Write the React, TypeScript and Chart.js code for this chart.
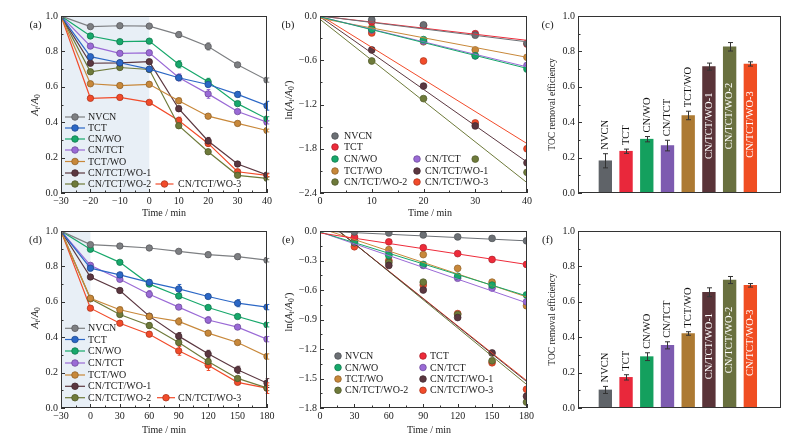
import React, { useEffect, useRef } from 'react';
import { Chart, registerables } from 'chart.js';

Chart.register(...registerables);

const FONT = "'Liberation Serif', 'Times New Roman', serif";
Chart.defaults.font.family = FONT;
Chart.defaults.font.size = 10;
Chart.defaults.color = '#222';

// ---- data ----
const series = ['NVCN', 'TCT', 'CN/WO', 'CN/TCT', 'TCT/WO', 'CN/TCT/WO-1', 'CN/TCT/WO-2', 'CN/TCT/WO-3'];

// (a) A/A0 vs time, 40 min run
const timeA = [-30, -20, -10, 0, 10, 20, 30, 40];
const ratioA = [
  [1.0, 0.94, 0.945, 0.943, 0.895, 0.828, 0.724, 0.638], // NVCN
  [1.0, 0.77, 0.736, 0.70, 0.651, 0.613, 0.557, 0.493], // TCT
  [1.0, 0.887, 0.855, 0.858, 0.727, 0.628, 0.505, 0.419], // CN/WO
  [1.0, 0.83, 0.789, 0.792, 0.653, 0.56, 0.46, 0.40], // CN/TCT
  [1.0, 0.617, 0.607, 0.614, 0.521, 0.434, 0.393, 0.353], // TCT/WO
  [1.0, 0.733, 0.735, 0.742, 0.476, 0.294, 0.164, 0.102], // CN/TCT/WO-1
  [1.0, 0.685, 0.709, 0.698, 0.38, 0.233, 0.10, 0.083], // CN/TCT/WO-2
  [1.0, 0.535, 0.54, 0.512, 0.41, 0.28, 0.12, 0.10], // CN/TCT/WO-3
];
const errA = [
  [0, 0.012, 0.01, 0.01, 0.015, 0.02, 0.01, 0.012],
  [0, 0.012, 0.01, 0.01, 0.015, 0.012, 0.015, 0.025],
  [0, 0.012, 0.012, 0.01, 0.02, 0.02, 0.012, 0.012],
  [0, 0.012, 0.012, 0.01, 0.02, 0.025, 0.01, 0.01],
  [0, 0.01, 0.008, 0.01, 0.015, 0.008, 0.012, 0.008],
  [0, 0.01, 0.01, 0.01, 0.015, 0.02, 0.008, 0.01],
  [0, 0.012, 0.01, 0.01, 0.012, 0.01, 0.008, 0.008],
  [0, 0.01, 0.012, 0.008, 0.018, 0.015, 0.01, 0.008],
];

// (b) ln(At/A0') points and fitted lines
const timeB = [10, 20, 30, 40];
const lnB = [
  [-0.05, -0.12, -0.26, -0.37],
  [-0.08, -0.13, -0.24, -0.38],
  [-0.18, -0.32, -0.54, -0.72],
  [-0.19, -0.34, -0.54, -0.67],
  [-0.16, -0.35, -0.46, -0.56],
  [-0.46, -0.95, -1.49, -1.99],
  [-0.61, -1.12, -1.94, -2.12],
  [-0.23, -0.61, -1.45, -1.80],
];
const fitTimeB = [0, 40];
const fitB = [
  [0.0, -0.35],
  [0.0, -0.33],
  [-0.01, -0.71],
  [-0.01, -0.69],
  [-0.03, -0.56],
  [-0.01, -1.98],
  [-0.045, -2.26],
  [0.01, -1.73],
];

// (c) TOC removal efficiency, 40 min
const tocC = [0.182, 0.236, 0.304, 0.268, 0.438, 0.714, 0.826, 0.729];
const tocCErr = [0.04, 0.012, 0.015, 0.03, 0.024, 0.02, 0.024, 0.012];

// (d) A/A0 vs time, 180 min run
const timeD = [-30, 0, 30, 60, 90, 120, 150, 180];
const ratioD = [
  [1.0, 0.923, 0.915, 0.904, 0.885, 0.866, 0.855, 0.835],
  [1.0, 0.79, 0.752, 0.71, 0.673, 0.63, 0.592, 0.57],
  [1.0, 0.897, 0.823, 0.70, 0.633, 0.568, 0.517, 0.47],
  [1.0, 0.806, 0.727, 0.643, 0.57, 0.497, 0.457, 0.389],
  [1.0, 0.62, 0.555, 0.517, 0.489, 0.423, 0.37, 0.291],
  [1.0, 0.74, 0.664, 0.519, 0.406, 0.306, 0.216, 0.141],
  [1.0, 0.617, 0.528, 0.466, 0.37, 0.263, 0.167, 0.113],
  [1.0, 0.564, 0.479, 0.417, 0.323, 0.242, 0.145, 0.112],
];
const errD = [
  [0, 0.012, 0.01, 0.01, 0.012, 0.015, 0.015, 0.01],
  [0, 0.015, 0.015, 0.015, 0.025, 0.01, 0.02, 0.015],
  [0, 0.01, 0.01, 0.012, 0.015, 0.01, 0.01, 0.012],
  [0, 0.012, 0.012, 0.02, 0.012, 0.018, 0.01, 0.015],
  [0, 0.01, 0.015, 0.01, 0.02, 0.01, 0.012, 0.015],
  [0, 0.012, 0.012, 0.012, 0.02, 0.02, 0.02, 0.025],
  [0, 0.01, 0.012, 0.015, 0.015, 0.015, 0.01, 0.015],
  [0, 0.012, 0.012, 0.012, 0.025, 0.03, 0.012, 0.03],
];

// (e) ln(At/A0') 180 min run
const timeE = [30, 60, 90, 120, 150, 180];
const lnE = [
  [-0.01, -0.02, -0.04, -0.06, -0.075, -0.10],
  [-0.06, -0.11, -0.17, -0.23, -0.29, -0.34],
  [-0.10, -0.25, -0.34, -0.46, -0.55, -0.65],
  [-0.11, -0.23, -0.35, -0.48, -0.58, -0.72],
  [-0.07, -0.19, -0.24, -0.38, -0.52, -0.76],
  [-0.10, -0.35, -0.60, -0.88, -1.24, -1.68],
  [-0.12, -0.32, -0.52, -0.85, -1.32, -1.74],
  [-0.16, -0.30, -0.55, -0.84, -1.34, -1.61],
];
const fitTimeE = [0, 180];
const fitE = [
  [0.0, -0.10],
  [-0.02, -0.34],
  [-0.01, -0.66],
  [-0.01, -0.73],
  [0.03, -0.67],
  [0.15, -1.53],
  [0.16, -1.56],
  [0.15, -1.52],
];

// (f) TOC removal efficiency, 180 min
const tocF = [0.102, 0.173, 0.29, 0.354, 0.421, 0.654, 0.723, 0.693];
const tocFErr = [0.02, 0.015, 0.022, 0.02, 0.01, 0.025, 0.02, 0.01];

// ---- styles ----
const ratioColors = ['#7d7f82', '#2b67c6', '#17a86b', '#9a6ad6', '#c8883a', '#5b3740', '#6e7a3a', '#f24b2a'];
const lnColors = ['#6c7075', '#ee2b3a', '#17a86b', '#9a6ad6', '#c8883a', '#5b3740', '#6e7a3a', '#f24b2a'];
const barColors = ['#5f6368', '#e9283b', '#14a05e', '#7d5bb0', '#ad7a33', '#5a3439', '#69703f', '#f04e22'];

type Box = { left: number; top: number; width: number; height: number; area: number[] };
type Seg = { t: string; it?: boolean; sub?: boolean };
type Txt = { segs: Seg[]; x: number; y: number; size: number; rotate?: boolean };
type Leg = { label: string; color: string; mx: number; y: number; tx: number; line?: number };

const boxA: Box = { left: 0, top: 0, width: 278, height: 222, area: [61, 16, 267, 193] };
const boxB: Box = { left: 278, top: 0, width: 258, height: 222, area: [320, 16, 527, 193] };
const boxC: Box = { left: 536, top: 0, width: 266, height: 222, area: [578, 16, 781, 193] };
const boxD: Box = { left: 0, top: 222, width: 278, height: 220, area: [61, 231, 267, 408] };
const boxE: Box = { left: 278, top: 222, width: 258, height: 220, area: [320, 231, 527, 408] };
const boxF: Box = { left: 536, top: 222, width: 266, height: 220, area: [578, 231, 781, 408] };

// legend anchors: [marker x, y, text x, line half length]
const legA = [[75, 117, 88, 10], [75, 128, 88, 10], [75, 139, 88, 10], [75, 150, 88, 10], [75, 161.5, 88, 10], [75, 173, 88, 10], [75, 184, 88, 10], [164.5, 184, 178, 9]];
const legD = [[75, 328.3, 88, 10], [75, 339.5, 88, 10], [75, 351, 88, 10], [75, 363, 88, 10], [75, 375, 88, 10], [75, 386.3, 88, 10], [75, 397.7, 88, 10], [166, 397.7, 178, 9]];
const legB = [[335, 136, 344], [335, 147, 344], [335, 159, 344], [417, 159, 425], [335, 171, 344], [417, 171, 425], [335, 182, 344], [417, 182, 425]];
const legE = [[338, 356, 345], [423, 356, 430], [338, 367.5, 345], [423, 367.5, 430], [338, 379, 345], [423, 379, 430], [338, 390.3, 345], [423, 390.3, 430]];

const ratioTitle: Seg[] = [{ t: 'A', it: true }, { t: 't', it: true, sub: true }, { t: '/' }, { t: 'A', it: true }, { t: '0', sub: true }];
const lnTitle: Seg[] = [{ t: 'ln(' }, { t: 'A', it: true }, { t: 't', it: true, sub: true }, { t: '/' }, { t: 'A', it: true }, { t: '0', sub: true }, { t: '′' }, { t: ')' }];
const tocTitle: Seg[] = [{ t: 'TOC removal efficiency' }];
const timeTitle: Seg[] = [{ t: 'Time / min' }];

const darken = (hex: string, f = 0.72) => {
  const n = parseInt(hex.slice(1), 16);
  return `rgb(${Math.round(((n >> 16) & 255) * f)},${Math.round(((n >> 8) & 255) * f)},${Math.round((n & 255) * f)})`;
};
const minus = (v: number, d: number) => (Math.abs(v) < 1e-9 ? (0).toFixed(d) : (v < 0 ? '\u2212' : '') + Math.abs(v).toFixed(d));

function drawRich(ctx: CanvasRenderingContext2D, tx: Txt) {
  ctx.save();
  ctx.translate(tx.x, tx.y);
  if (tx.rotate) ctx.rotate(-Math.PI / 2);
  const fontOf = (s: Seg) => `${s.it ? 'italic ' : ''}${s.sub ? tx.size * 0.7 : tx.size}px ${FONT}`;
  const widths = tx.segs.map((s) => {
    ctx.font = fontOf(s);
    return ctx.measureText(s.t).width;
  });
  let cx = -widths.reduce((a, b) => a + b, 0) / 2;
  ctx.textBaseline = 'middle';
  ctx.textAlign = 'left';
  ctx.fillStyle = '#222';
  tx.segs.forEach((s, i) => {
    ctx.font = fontOf(s);
    ctx.fillText(s.t, cx, s.sub ? tx.size * 0.3 : 0);
    cx += widths[i];
  });
  ctx.restore();
}

interface DecorCfg {
  box: Box;
  texts: Txt[];
  legend?: Leg[];
  shade?: number[];
  minorX?: number;
  minorY?: number;
  ticksX?: boolean;
  barLabels?: { names: string[]; values: number[]; errs: number[]; insideFrom: number };
}

function drawErrors(chart: any, onTop: boolean) {
  const { ctx, scales } = chart;
  chart.data.datasets.forEach((ds: any, i: number) => {
    if (!ds.errors || !!ds.errOnTop !== onTop) return;
    const meta = chart.getDatasetMeta(i);
    ctx.save();
    ctx.strokeStyle = ds.errColor || ds.borderColor;
    ctx.lineWidth = 1;
    meta.data.forEach((el: any, j: number) => {
      const e = ds.errors[j];
      if (!e) return;
      const v = ds.data[j].y;
      const yt = scales.y.getPixelForValue(v + e);
      const yb = scales.y.getPixelForValue(v - e);
      const x = Math.round(el.x) + 0.5;
      const c = ds.capW ?? 2;
      ctx.beginPath();
      ctx.moveTo(x, yt);
      ctx.lineTo(x, yb);
      ctx.moveTo(x - c, yt);
      ctx.lineTo(x + c, yt);
      ctx.moveTo(x - c, yb);
      ctx.lineTo(x + c, yb);
      ctx.stroke();
    });
    ctx.restore();
  });
}

function tickMarks(ctx: CanvasRenderingContext2D, scale: any, horizontal: boolean, minor: number | undefined, ca: any) {
  const majors: number[] = scale.ticks.map((t: any) => t.value);
  ctx.beginPath();
  const mark = (v: number, len: number) => {
    const p = Math.round(scale.getPixelForValue(v)) + 0.5;
    if (horizontal) {
      ctx.moveTo(p, ca.bottom);
      ctx.lineTo(p, ca.bottom - len);
    } else {
      ctx.moveTo(ca.left, p);
      ctx.lineTo(ca.left + len, p);
    }
  };
  majors.forEach((v) => mark(v, 4));
  if (minor) {
    const n = Math.round((scale.max - scale.min) / minor);
    for (let k = 0; k <= n; k++) {
      const v = scale.min + k * minor;
      if (!majors.some((m) => Math.abs(m - v) < minor / 10)) mark(v, 2.5);
    }
  }
  ctx.stroke();
}

const makeDecor = (cfg: DecorCfg) => ({
  id: 'decor',
  beforeDatasetsDraw(chart: any) {
    const { ctx, chartArea: ca, scales } = chart;
    if (cfg.shade) {
      const x0 = scales.x.getPixelForValue(cfg.shade[0]);
      const x1 = scales.x.getPixelForValue(cfg.shade[1]);
      ctx.save();
      ctx.fillStyle = '#e8eff6';
      ctx.fillRect(x0, ca.top, x1 - x0, ca.bottom - ca.top);
      ctx.restore();
    }
    drawErrors(chart, false);
  },
  afterDatasetsDraw(chart: any) {
    drawErrors(chart, true);
  },
  afterDraw(chart: any) {
    const { ctx, chartArea: ca, scales } = chart;
    const ox = cfg.box.left;
    const oy = cfg.box.top;
    ctx.save();
    ctx.strokeStyle = '#333';
    ctx.lineWidth = 1;
    ctx.strokeRect(Math.round(ca.left) + 0.5, Math.round(ca.top) + 0.5, Math.round(ca.right - ca.left) - 1, Math.round(ca.bottom - ca.top) - 1);
    tickMarks(ctx, scales.y, false, cfg.minorY, ca);
    if (cfg.ticksX !== false) tickMarks(ctx, scales.x, true, cfg.minorX, ca);

    (cfg.legend || []).forEach((it) => {
      const mx = it.mx - ox;
      const y = it.y - oy;
      if (it.line) {
        ctx.strokeStyle = it.color;
        ctx.lineWidth = 1.2;
        ctx.beginPath();
        ctx.moveTo(mx - it.line, y);
        ctx.lineTo(mx + it.line, y);
        ctx.stroke();
      }
      ctx.fillStyle = it.color;
      ctx.strokeStyle = darken(it.color);
      ctx.lineWidth = 0.8;
      ctx.beginPath();
      ctx.arc(mx, y, 3.3, 0, Math.PI * 2);
      ctx.fill();
      ctx.stroke();
      ctx.fillStyle = '#222';
      ctx.font = `10px ${FONT}`;
      ctx.textAlign = 'left';
      ctx.textBaseline = 'middle';
      ctx.fillText(it.label, it.tx - ox, y + 0.5);
    });

    if (cfg.barLabels) {
      const bl = cfg.barLabels;
      const meta = chart.getDatasetMeta(0);
      meta.data.forEach((el: any, j: number) => {
        ctx.save();
        ctx.font = `10.5px ${FONT}`;
        ctx.textBaseline = 'middle';
        if (j >= bl.insideFrom) {
          ctx.translate(el.x, (el.y + el.base) / 2 - 4);
          ctx.rotate(-Math.PI / 2);
          ctx.textAlign = 'center';
          ctx.fillStyle = '#fff';
        } else {
          ctx.translate(el.x, scales.y.getPixelForValue(bl.values[j] + bl.errs[j]) - 4);
          ctx.rotate(-Math.PI / 2);
          ctx.textAlign = 'left';
          ctx.fillStyle = '#111';
        }
        ctx.fillText(bl.names[j], 0, 0);
        ctx.restore();
      });
    }

    cfg.texts.forEach((t) => drawRich(ctx, { ...t, x: t.x - ox, y: t.y - oy }));
    ctx.restore();
  },
});

function baseOptions(box: Box, x: any, y: any) {
  const [l, t, r, b] = box.area;
  return {
    responsive: false,
    animation: false,
    events: [],
    layout: { padding: { left: 0, top: t - box.top, right: box.left + box.width - r, bottom: 0 } },
    plugins: { legend: { display: false }, tooltip: { enabled: false } },
    scales: {
      x: {
        ...x,
        grid: { display: false, drawTicks: false },
        border: { display: false },
        afterFit: (s: any) => {
          s.height = box.top + box.height - b;
        },
      },
      y: {
        ...y,
        grid: { display: false, drawTicks: false },
        border: { display: false },
        afterFit: (s: any) => {
          s.width = l - box.left;
        },
      },
    },
  };
}

function ratioConfig(box: Box, time: number[], vals: number[][], errs: number[][], leg: number[][], xMin: number, xMax: number, xStep: number, label: string) {
  const datasets = series.map((name, i) => ({
    type: 'line',
    label: name,
    data: time.map((t, j) => ({ x: t, y: vals[i][j] })),
    errors: errs[i],
    capW: 1.8,
    borderColor: ratioColors[i],
    backgroundColor: ratioColors[i],
    borderWidth: 1.2,
    pointRadius: 3.2,
    pointBorderWidth: 0.8,
    pointBorderColor: darken(ratioColors[i]),
    pointBackgroundColor: ratioColors[i],
  }));
  const [l, , r, b] = box.area;
  const titleY = box === boxA ? 213 : 430;
  const opts = baseOptions(
    box,
    { type: 'linear', min: xMin, max: xMax, ticks: { stepSize: xStep, padding: 2, callback: (v: number) => minus(v, 0) } },
    { type: 'linear', min: 0, max: 1, ticks: { stepSize: 0.2, padding: 3, callback: (v: number) => minus(v, 1) } },
  );
  const legend: Leg[] = series.map((name, i) => ({ label: name, color: ratioColors[i], mx: leg[i][0], y: leg[i][1], tx: leg[i][2], line: leg[i][3] }));
  const cfg: DecorCfg = {
    box,
    shade: [xMin, 0],
    minorX: xStep / 2,
    minorY: 0.1,
    legend,
    texts: [
      { segs: [{ t: label }], x: 35.5, y: box.area[1] + 9.5, size: 11 },
      { segs: timeTitle, x: (l + r) / 2, y: titleY, size: 10 },
      { segs: ratioTitle, x: 35, y: box === boxA ? 105 : 318, size: 10.5, rotate: true },
    ],
  };
  return { type: 'line', data: { datasets }, options: opts, plugins: [makeDecor(cfg)] };
}

function lnConfig(box: Box, time: number[], vals: number[][], fitT: number[], fit: number[][], leg: number[][], xMax: number, xStep: number, yMin: number, yStep: number, label: string) {
  const points = series.map((name, i) => ({
    label: name,
    data: time.map((t, j) => ({ x: t, y: vals[i][j] })),
    showLine: false,
    pointRadius: 3.4,
    pointBorderWidth: 0.7,
    pointBackgroundColor: lnColors[i],
    pointBorderColor: darken(lnColors[i]),
    backgroundColor: lnColors[i],
    borderColor: lnColors[i],
  }));
  const lines = series.map((name, i) => ({
    label: name + ' fit',
    data: fitT.map((t, j) => ({ x: t, y: fit[i][j] })),
    showLine: true,
    pointRadius: 0,
    borderWidth: 1,
    borderColor: lnColors[i],
    backgroundColor: lnColors[i],
  }));
  const [l, , r] = box.area;
  const top = box === boxB;
  const opts = baseOptions(
    box,
    { type: 'linear', min: 0, max: xMax, ticks: { stepSize: xStep, padding: 2 } },
    { type: 'linear', min: yMin, max: 0, ticks: { stepSize: yStep, padding: 3, callback: (v: number) => minus(v, 1) } },
  );
  const legend: Leg[] = series.map((name, i) => ({ label: name, color: lnColors[i], mx: leg[i][0], y: leg[i][1], tx: leg[i][2] }));
  const cfg: DecorCfg = {
    box,
    minorX: xStep / 2,
    minorY: yStep / 2,
    legend,
    texts: [
      { segs: [{ t: label }], x: 288, y: box.area[1] + 9, size: 11 },
      { segs: timeTitle, x: top ? 430 : 429, y: top ? 213 : 430, size: 10 },
      { segs: lnTitle, x: 289, y: top ? 100 : 312, size: 10.5, rotate: true },
    ],
  };
  void l;
  void r;
  return { type: 'scatter', data: { datasets: [...lines, ...points] }, options: opts, plugins: [makeDecor(cfg)] };
}

function barConfig(box: Box, vals: number[], errs: number[], label: string) {
  const datasets = [
    {
      type: 'bar',
      label: 'TOC',
      data: vals.map((v, i) => ({ x: i, y: v })),
      backgroundColor: barColors,
      borderWidth: 0,
      barThickness: 12.7,
      errors: errs,
      errColor: '#333',
      errOnTop: true,
      capW: 2.5,
    },
  ];
  const opts = baseOptions(
    box,
    { type: 'linear', min: -0.34, max: 7.5, ticks: { display: false } },
    { type: 'linear', min: 0, max: 1, ticks: { stepSize: 0.2, padding: 3, callback: (v: number) => minus(v, 1) } },
  );
  const cfg: DecorCfg = {
    box,
    minorY: 0.1,
    ticksX: false,
    barLabels: { names: series, values: vals, errs, insideFrom: 5 },
    texts: [
      { segs: [{ t: label }], x: 547.5, y: box.area[1] + 9, size: 11 },
      { segs: tocTitle, x: 552, y: (box.area[1] + box.area[3]) / 2, size: 9.5, rotate: true },
    ],
  };
  return { type: 'bar', data: { datasets }, options: opts, plugins: [makeDecor(cfg)] };
}

const Panel: React.FC<{ box: Box; make: () => any }> = ({ box, make }) => {
  const ref = useRef<HTMLCanvasElement>(null);
  useEffect(() => {
    const ctx = ref.current?.getContext('2d');
    if (!ctx) return;
    const chart = new Chart(ctx, make());
    return () => chart.destroy();
  }, []);
  return (
    <canvas
      ref={ref}
      width={box.width}
      height={box.height}
      style={{ position: 'absolute', left: box.left, top: box.top, width: box.width, height: box.height }}
    />
  );
};

const App: React.FC = () => (
  <div style={{ position: 'absolute', left: 0, top: 0, width: 802, height: 442, background: '#fff', overflow: 'hidden' }}>
    <Panel box={boxA} make={() => ratioConfig(boxA, timeA, ratioA, errA, legA, -30, 40, 10, '(a)')} />
    <Panel box={boxB} make={() => lnConfig(boxB, timeB, lnB, fitTimeB, fitB, legB, 40, 10, -2.4, 0.6, '(b)')} />
    <Panel box={boxC} make={() => barConfig(boxC, tocC, tocCErr, '(c)')} />
    <Panel box={boxD} make={() => ratioConfig(boxD, timeD, ratioD, errD, legD, -30, 180, 30, '(d)')} />
    <Panel box={boxE} make={() => lnConfig(boxE, timeE, lnE, fitTimeE, fitE, legE, 180, 30, -1.8, 0.3, '(e)')} />
    <Panel box={boxF} make={() => barConfig(boxF, tocF, tocFErr, '(f)')} />
  </div>
);

export default App;
